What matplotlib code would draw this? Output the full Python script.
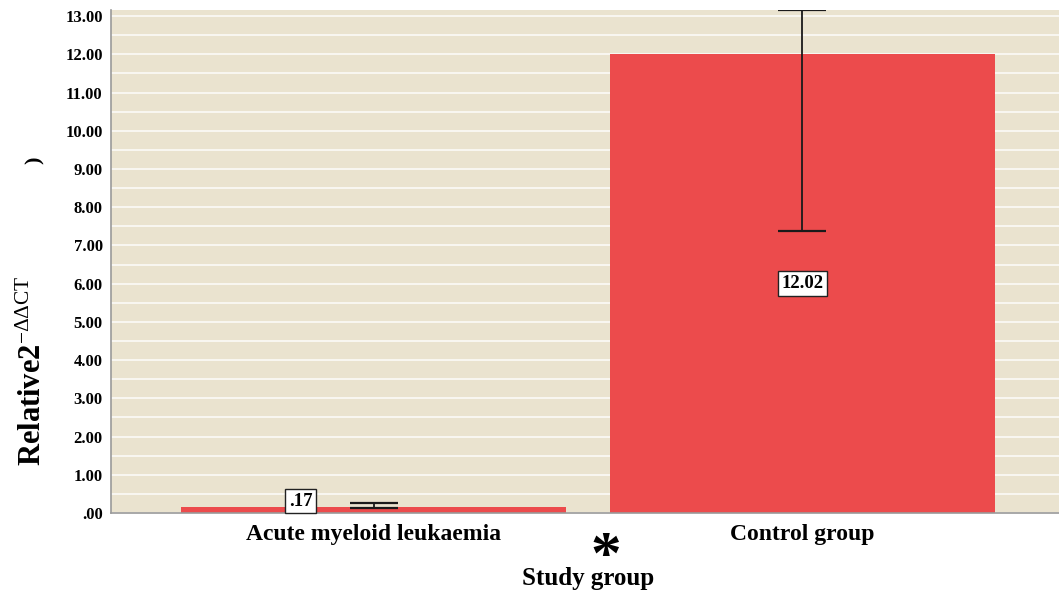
import matplotlib.pyplot as plt
import numpy as np

plt.rcParams['font.family'] = ['Liberation Serif', 'DejaVu Serif']
plt.rcParams['mathtext.fontset'] = 'custom'
plt.rcParams['mathtext.rm'] = 'Liberation Serif'
plt.rcParams['mathtext.it'] = 'Liberation Serif:italic'
plt.rcParams['mathtext.bf'] = 'Liberation Serif:bold'

# data
groups = ["Acute myeloid leukaemia", "Control group"]
means = [0.17, 12.02]
err_low = [0.14, 7.38]
err_high = [0.26, 13.16]
value_labels = [".17", "12.02"]
yticks = np.arange(0, 14, 1)
ytick_labels = [".00"] + [f"{v:.2f}" for v in yticks[1:]]

bar_color = "#EC4B4C"
bg_color = "#EAE3CF"

fig = plt.figure(figsize=(10.59, 5.92), dpi=100)
ax = fig.add_axes([0.1048, 0.1334, 0.8952, 0.8497])
ax.set_facecolor(bg_color)

x = np.arange(len(groups))
ax.bar(x, means, width=0.897, color=bar_color, zorder=2)

means_a = np.array(means)
yerr = [means_a - np.array(err_low), np.array(err_high) - means_a]
ax.errorbar(x, means, yerr=yerr, fmt='none', ecolor='#1a1a1a',
            elinewidth=1.3, capsize=17, capthick=1.6, zorder=3)

# value labels in white boxes
label_x = [x[0] - 0.17, x[1]]
label_y = [0.31, means[1] / 2]
for lx, ly, txt in zip(label_x, label_y, value_labels):
    ax.text(lx, ly, txt, ha='center', va='center', fontsize=13.5,
            fontweight='bold', zorder=4,
            bbox=dict(boxstyle='square,pad=0.2', fc='white', ec='#222222', lw=1))

ax.set_xlim(-0.612, 1.598)
ax.set_ylim(0, 13.16)

ax.set_yticks(yticks)
ax.set_yticklabels(ytick_labels, fontsize=12, fontweight='bold')
ax.set_yticks(np.arange(0.5, 13.5, 1), minor=True)
ax.grid(axis='y', which='both', color='white', lw=1.2, alpha=0.85, zorder=1)
ax.set_axisbelow(True)

ax.set_xticks(x)
ax.set_xticklabels(groups, fontsize=17, fontweight='bold')
ax.tick_params(axis='both', which='both', length=0)
ax.tick_params(axis='x', pad=8)
ax.tick_params(axis='y', pad=6)

for s in ['top', 'right']:
    ax.spines[s].set_visible(False)
for s in ['left', 'bottom']:
    ax.spines[s].set_color('#9a9a9a')
    ax.spines[s].set_linewidth(1.2)

fig.text(588 / 1059, 1 - 579 / 592, "Study group", ha='center', va='center',
         fontsize=18, fontweight='bold')
fig.text(606 / 1059, 1 - 558 / 592, "*", ha='center', va='center',
         fontsize=44, fontweight='bold')

fig.text(33 / 1059, 1 - 371 / 592, r"Relative2$^{-\Delta\Delta\mathrm{CT}}$",
         rotation=90, ha='center', va='center', fontsize=22, fontweight='bold')
fig.text(35 / 1059, 1 - 160 / 592, ")", rotation=90, ha='center', va='center',
         fontsize=16, fontweight='bold')

fig.savefig("out.png", dpi=100)
